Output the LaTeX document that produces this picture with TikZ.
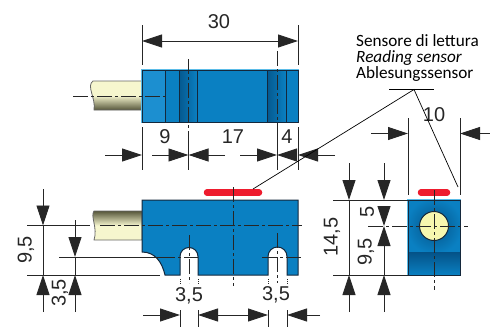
\documentclass[tikz,border=0pt]{standalone}
\usepackage{fontspec}
\setmainfont{Liberation Sans}
\newfontfamily\sensorfont{Carlito}
\usetikzlibrary{arrows.meta}
\definecolor{bodyblue}{HTML}{0A80C2}
\definecolor{darkblue}{HTML}{045287}
\definecolor{lightblue}{HTML}{1C8FD0}
\definecolor{glowblue}{HTML}{5BBCE8}
\definecolor{outline}{HTML}{14283C}
\definecolor{sensorred}{HTML}{EE1C2E}
\definecolor{cablepale}{HTML}{F6F6CE}
\definecolor{cabledark}{HTML}{56563A}
\tikzset{
  dim/.style={draw=black!85, line width=0.9pt},
  dimtip/.style={dim, -{Triangle[length=20pt, width=13pt]}},
  ctr/.style={draw=black!85, line width=0.9pt, dash pattern=on 15pt off 3pt on 3pt off 3pt},
  body/.style={draw=outline, line width=1pt, fill=bodyblue},
  glow/.style={draw=glowblue, line width=2.4pt},
  sensorbar/.style={draw=sensorred, line width=6.5pt, line cap=round},
  dimlabel/.style={inner sep=0pt, font=\fontsize{20}{22}\selectfont, text=black!85}
}
\begin{document}
\begin{tikzpicture}[x=1pt, y=-1pt]
    \useasboundingbox (0,0) rectangle (490,327);

    % Top view
    \path[draw=black!60, line width=0.8pt, top color=cablepale, bottom color=cabledark, middle color=cablepale] (142,81) -- (93,81) .. controls (86,86) and (96,98) .. (94,110) -- (142,110) -- cycle;
    \draw[glow] (142,70) rectangle (298,122);
    \fill[bodyblue] (142,70) rectangle (298,122);
    \fill[lightblue] (142,70) rectangle (165,122);
    \shade[left color=darkblue, right color=bodyblue] (176,70) rectangle (197.5,122);
    \shade[left color=darkblue, right color=bodyblue] (264,70) rectangle (286,122);
    \fill[bodyblue] (165,70) rectangle (179.5,122);
    \fill[bodyblue] (249,70) rectangle (267.5,122);
    \draw[draw=outline, line width=1pt] (142,70) rectangle (298,122);
    \draw[draw=outline, line width=1pt] (165,70) -- (165,122);
    \draw[draw=outline, line width=1pt] (179.5,70) -- (179.5,122);
    \draw[draw=outline, line width=1pt] (197.5,70) -- (197.5,122);
    \draw[draw=outline, line width=1pt] (267.5,70) -- (267.5,122);
    \draw[draw=outline, line width=1pt] (286,70) -- (286,122);
    \draw[ctr] (73,96) -- (165,96);
    \draw[ctr] (188.5,59) -- (188.5,135);
    \draw[ctr] (277,51) -- (277,135);

    % Side view
    \path[draw=black!60, line width=0.8pt, top color=cabledark, bottom color=cablepale, middle color=cablepale] (142,211) -- (94,211) .. controls (90,216) and (98,228) .. (94,240) -- (142,240) -- cycle;
    \path[body] (142,200) -- (298,200) -- (298,275) -- (287,275) -- (287,256.5)
      arc[start angle=360, end angle=180, radius=9.5] -- (268,275) -- (198,275) -- (198,256.5)
      arc[start angle=360, end angle=180, radius=9] -- (180,275) -- (165,275)
      .. controls (162,262) and (155,252) .. (142,252) -- cycle;
    \draw[sensorbar] (207,192.5) -- (259,192.5);
    \draw[ctr] (100,225.5) -- (302,225.5);
    \draw[ctr] (233,187) -- (233,286);
    \draw[ctr] (189,235) -- (189,283);
    \draw[ctr] (277,233) -- (277,283);
    \draw[ctr] (160,257) -- (198,257);
    \draw[ctr] (262,257) -- (302,257);

    % End view
    \draw[glow] (408,200) rectangle (460,275);
    \fill[bodyblue] (408,200) rectangle (460,252);
    \begin{scope}
      \clip (408,200) rectangle (460,252);
      \shade[inner color=darkblue, outer color=bodyblue] (434,226) circle[radius=28];
    \end{scope}
    \shade[top color=darkblue, bottom color=bodyblue] (408,252) rectangle (460,275);
    \draw[draw=outline, line width=1pt] (408,200) rectangle (460,275);
    \node[circle, draw=outline, line width=1pt, fill=cablepale!85!yellow, minimum size=29pt, inner sep=0pt] at (434,226) (pin) {};
    \draw[sensorbar] (421,192.5) -- (447,192.5);
    \draw[ctr] (434,190) -- (434,290);
    \draw[ctr] (368,226) -- (468,226);

    % Dimensions top view
    \draw[dim] (142,25) -- (142,65);
    \draw[dim] (298,25) -- (298,65);
    \draw[dimtip] (219,41) -- (142,41);
    \draw[dimtip] (219,41) -- (298,41);
    \draw[dim] (142,127) -- (142,170);
    \draw[dim] (298,127) -- (298,170);
    \draw[dim] (188.5,135) -- (188.5,170);
    \draw[dim] (277,135) -- (277,170);
    \draw[dimtip] (105,155) -- (142,155);
    \draw[dimtip] (152,155) -- (188.5,155);
    \draw[dimtip] (225,155) -- (188.5,155);
    \draw[dimtip] (240,155) -- (277,155);
    \draw[dimtip] (296,155) -- (277,155);
    \draw[dimtip] (335,155) -- (298,155);
    \node[dimlabel] at (219,22) (lbl30) {30};
    \node[dimlabel] at (165,137) (lbl9) {9};
    \node[dimlabel] at (233,137) (lbl17) {17};
    \node[dimlabel] at (287,137) (lbl4) {4};

    % Dimensions side view
    \draw[dim] (27,225.5) -- (90,225.5);
    \draw[dim] (27,275) -- (160,275);
    \draw[dim] (59,257) -- (160,257);
    \draw[dimtip] (43,189) -- (43,225.5);
    \draw[dimtip] (43,312) -- (43,275);
    \draw[dim] (43,225.5) -- (43,275);
    \draw[dimtip] (75,220) -- (75,257);
    \draw[dimtip] (75,312) -- (75,275);
    \draw[dim] (75,257) -- (75,275);
    \node[dimlabel, rotate=90] at (26,250) (lblh) {9,5};
    \node[dimlabel, rotate=90] at (60,293) (lbls) {3,5};
    \draw[dim, densely dotted] (180,279) -- (180,284);
    \draw[dim, densely dotted] (198,279) -- (198,284);
    \draw[dim, densely dotted] (268,279) -- (268,284);
    \draw[dim, densely dotted] (287,279) -- (287,284);
    \draw[dim] (180,310) -- (180,327);
    \draw[dim] (198,310) -- (198,327);
    \draw[dim] (268,310) -- (268,327);
    \draw[dim] (287,310) -- (287,327);
    \draw[dimtip] (143,315) -- (180,315);
    \draw[dimtip] (233,315) -- (198,315);
    \draw[dimtip] (233,315) -- (268,315);
    \draw[dimtip] (320,315) -- (287,315);
    \node[dimlabel] at (189,296) (lblslota) {3,5};
    \node[dimlabel] at (276,295) (lblslotb) {3,5};

    % Dimensions end view
    \draw[dim] (408,118) -- (408,195);
    \draw[dim] (460,118) -- (460,195);
    \draw[dimtip] (371,133.5) -- (408,133.5);
    \draw[dimtip] (490,133.5) -- (460,133.5);
    \node[dimlabel] at (434,115) (lbl10) {10};
    \draw[dim] (333,200) -- (408,200);
    \draw[dim] (333,275) -- (408,275);
    \draw[dimtip] (349,163) -- (349,200);
    \draw[dimtip] (349,312) -- (349,275);
    \draw[dim] (349,200) -- (349,275);
    \draw[dimtip] (384,163) -- (384,200);
    \draw[dimtip] (384,207) -- (384,226);
    \draw[dimtip] (384,275) -- (384,226);
    \draw[dimtip] (384,312) -- (384,275);
    \node[dimlabel, rotate=90] at (332,237) (lblbody) {14,5};
    \node[dimlabel, rotate=90] at (367,212) (lblfive) {5};
    \node[dimlabel, rotate=90] at (366,252) (lblnine) {9,5};

    % Sensor label
    \node[anchor=west, inner sep=0pt, align=left, font=\sensorfont\fontsize{17.2}{16}\selectfont] at (356,58) (sensor) {Sensore di lettura\\\textit{Reading sensor}\\Ablesungssensor};
    \coordinate (kink) at (414,89.5);
    \coordinate (barside) at (253,189);
    \coordinate (barend) at (458,187);
    \draw[line width=0.7pt] (389,89.5) -- (434,89.5);
    \draw[line width=0.7pt] (barside) -- (kink) -- (barend);
\end{tikzpicture}
\end{document}
